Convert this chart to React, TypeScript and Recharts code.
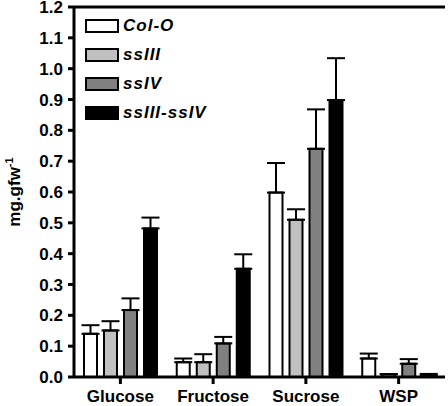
import React from 'react';
import { BarChart, Bar, XAxis, YAxis, ErrorBar, ReferenceLine } from 'recharts';

const categories = ['Glucose', 'Fructose', 'Sucrose', 'WSP'];
const seriesNames = ['Col-O', 'ssIII', 'ssIV', 'ssIII-ssIV'];
const colOValues = [0.14, 0.048, 0.598, 0.06];
const ssIIIValues = [0.151, 0.048, 0.51, 0.009];
const ssIVValues = [0.217, 0.109, 0.74, 0.043];
const ssIIIssIVValues = [0.482, 0.351, 0.898, 0.006];
const colOErrors = [0.028, 0.012, 0.096, 0.016];
const ssIIIErrors = [0.03, 0.026, 0.034, 0];
const ssIVErrors = [0.038, 0.021, 0.128, 0.015];
const ssIIIssIVErrors = [0.035, 0.047, 0.136, 0.004];
const yTicks = [0, 0.1, 0.2, 0.3, 0.4, 0.5, 0.6, 0.7, 0.8, 0.9, 1.0, 1.1, 1.2];

const colors = ['#ffffff', '#c0c0c0', '#808080', '#000000'];
const keys = ['s0', 's1', 's2', 's3'];
const valueArrays = [colOValues, ssIIIValues, ssIVValues, ssIIIssIVValues];
const errorArrays = [colOErrors, ssIIIErrors, ssIVErrors, ssIIIssIVErrors];

const data = categories.map((name, i) => {
  const row: any = { name };
  keys.forEach((k, j) => {
    row[k] = valueArrays[j][i];
    row[k + 'e'] = [0, errorArrays[j][i]];
  });
  return row;
});

const FONT = 'Arial, "Liberation Sans", Helvetica, sans-serif';

const LegendBox = () => (
  <div style={{ position: 'absolute', left: 85, top: 11, fontFamily: FONT }}>
    {seriesNames.map((n, i) => (
      <div key={n} style={{ display: 'flex', alignItems: 'center', height: 29 }}>
        <div
          style={{
            width: 30,
            height: 10,
            background: colors[i],
            border: '2px solid #000',
            marginRight: 4,
          }}
        />
        <span style={{ fontWeight: 'bold', fontStyle: 'italic', fontSize: 17, letterSpacing: 1, color: '#000' }}>{n}</span>
      </div>
    ))}
  </div>
);

const YLabel = () => (
  <text
    x={20}
    y={192}
    transform="rotate(-90, 20, 192)"
    textAnchor="middle"
    fontFamily={FONT}
    fontWeight="bold"
    fontSize={17}
    fill="#000"
  >
    mg.gfw
    <tspan fontSize={11} dy={-7}>-1</tspan>
  </text>
);

export default function App() {
  return (
    <div style={{ position: 'absolute', left: 0, top: 0, width: 448, height: 406, background: '#fff' }}>
      <BarChart
        width={448}
        height={406}
        data={data}
        margin={{ top: 7, right: 3, left: 0, bottom: 0 }}
        barSize={13}
        barGap={7}
      >
        <XAxis
          dataKey="name"
          height={29}
          axisLine={{ stroke: '#000', strokeWidth: 3 }}
          tickLine={{ stroke: '#000', strokeWidth: 3 }}
          tickSize={7}
          tickMargin={6}
          interval={0}
          tick={{ fill: '#000', fontSize: 17, fontWeight: 'bold', fontFamily: FONT }}
        />
        <YAxis
          width={74}
          domain={[0, 1.2]}
          ticks={yTicks}
          interval={0}
          tickFormatter={(v: number) => v.toFixed(1)}
          axisLine={{ stroke: '#000', strokeWidth: 3 }}
          tickLine={{ stroke: '#000', strokeWidth: 3 }}
          tickSize={6}
          tickMargin={5}
          tick={{ fill: '#000', fontSize: 17, fontWeight: 'bold', fontFamily: FONT }}
          label={{ content: () => <YLabel /> }}
        />
        <YAxis
          yAxisId="right"
          orientation="right"
          width={0}
          domain={[0, 1.2]}
          tick={false}
          tickLine={false}
          axisLine={{ stroke: '#000', strokeWidth: 3 }}
        />
        <ReferenceLine y={1.2} stroke="#000" strokeWidth={3} />
        {keys.map((k, j) => (
          <Bar key={k} dataKey={k} name={seriesNames[j]} fill={colors[j]} stroke="#000" strokeWidth={2} isAnimationActive={false}>
            <ErrorBar dataKey={k + 'e'} width={9} stroke="#000" strokeWidth={2} direction="y" isAnimationActive={false} />
          </Bar>
        ))}
      </BarChart>
      <LegendBox />
    </div>
  );
}
